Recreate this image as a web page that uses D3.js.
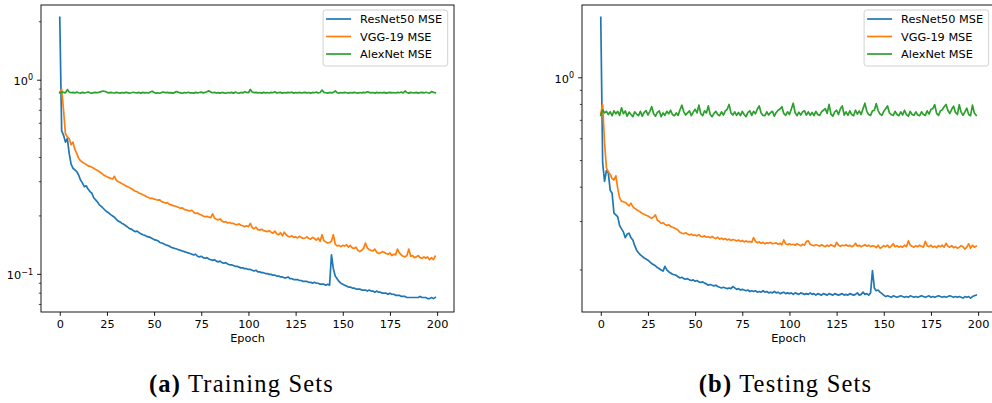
<!DOCTYPE html>
<html>
<head>
<meta charset="utf-8">
<script src="https://cdn.jsdelivr.net/npm/d3@7"></script>
<style>
  html, body { margin: 0; padding: 0; background: #fff; }
  svg { display: block; }
</style>
</head>
<body>
<svg id="fig" width="992" height="403"></svg>
<script>
// ---- data: per-epoch MSE for each network (epochs 0..199) ----
const epochs = d3.range(200);

const trainResNet = [
  2.11, 0.55, 0.52, 0.48, 0.50, 0.42, 0.37, 0.352, 0.345, 0.338,
  0.325, 0.306, 0.296, 0.283, 0.286, 0.275, 0.267, 0.262, 0.248, 0.242,
  0.236, 0.228, 0.224, 0.219, 0.214, 0.210, 0.207, 0.203, 0.200, 0.197,
  0.192, 0.188, 0.186, 0.183, 0.181, 0.178, 0.175, 0.172, 0.171, 0.168,
  0.166, 0.167, 0.164, 0.162, 0.160, 0.159, 0.157, 0.156, 0.155, 0.153,
  0.151, 0.150, 0.149, 0.146, 0.145, 0.144, 0.142, 0.141, 0.140, 0.138,
  0.137, 0.136, 0.135, 0.134, 0.133, 0.132, 0.131, 0.130, 0.129, 0.128,
  0.127, 0.126, 0.127, 0.124, 0.123, 0.124, 0.122, 0.121, 0.122, 0.120,
  0.119, 0.118, 0.119, 0.117, 0.116, 0.117, 0.115, 0.114, 0.115, 0.113,
  0.112, 0.112, 0.111, 0.110, 0.110, 0.109, 0.108, 0.108, 0.107, 0.107,
  0.106, 0.106, 0.105, 0.104, 0.105, 0.103, 0.103, 0.102, 0.102, 0.101,
  0.101, 0.100, 0.100, 0.099, 0.099, 0.098, 0.098, 0.097, 0.097, 0.096,
  0.096, 0.097, 0.095, 0.095, 0.094, 0.094, 0.094, 0.093, 0.093, 0.092,
  0.092, 0.092, 0.091, 0.091, 0.090, 0.091, 0.090, 0.090, 0.089, 0.089,
  0.089, 0.088, 0.089, 0.088, 0.126, 0.107, 0.098, 0.095, 0.092, 0.090,
  0.089, 0.088, 0.087, 0.086, 0.086, 0.085, 0.085, 0.084, 0.084, 0.084,
  0.083, 0.083, 0.083, 0.082, 0.083, 0.082, 0.082, 0.081, 0.082, 0.081,
  0.081, 0.080, 0.080, 0.080, 0.079, 0.080, 0.079, 0.079, 0.078, 0.078,
  0.078, 0.077, 0.077, 0.077, 0.076, 0.076, 0.076, 0.076, 0.076, 0.076,
  0.076, 0.077, 0.076, 0.076, 0.076, 0.075, 0.075, 0.076, 0.075, 0.076
];

const trainVGG = [
  0.87, 0.90, 0.70, 0.53, 0.51, 0.50, 0.465, 0.48, 0.44, 0.42,
  0.396, 0.385, 0.378, 0.373, 0.368, 0.362, 0.360, 0.356, 0.352, 0.347,
  0.343, 0.338, 0.333, 0.326, 0.322, 0.318, 0.315, 0.312, 0.310, 0.320,
  0.305, 0.300, 0.297, 0.293, 0.290, 0.285, 0.283, 0.279, 0.276, 0.272,
  0.268, 0.267, 0.262, 0.260, 0.257, 0.255, 0.251, 0.249, 0.246, 0.247,
  0.244, 0.243, 0.241, 0.242, 0.237, 0.235, 0.233, 0.234, 0.230, 0.228,
  0.226, 0.225, 0.223, 0.221, 0.219, 0.220, 0.216, 0.215, 0.213, 0.212,
  0.214, 0.209, 0.206, 0.207, 0.204, 0.202, 0.200, 0.198, 0.199, 0.197,
  0.196, 0.205, 0.195, 0.192, 0.191, 0.193, 0.188, 0.186, 0.187, 0.184,
  0.185, 0.183, 0.183, 0.181, 0.180, 0.182, 0.179, 0.178, 0.176, 0.178,
  0.176, 0.183, 0.174, 0.172, 0.175, 0.170, 0.169, 0.171, 0.168, 0.167,
  0.166, 0.168, 0.165, 0.163, 0.167, 0.162, 0.160, 0.164, 0.158, 0.165,
  0.160, 0.157, 0.156, 0.158, 0.155, 0.156, 0.154, 0.157, 0.155, 0.153,
  0.154, 0.156, 0.153, 0.152, 0.155, 0.153, 0.150, 0.154, 0.148, 0.160,
  0.149, 0.147, 0.145, 0.146, 0.148, 0.160, 0.143, 0.140, 0.141, 0.139,
  0.141, 0.140, 0.142, 0.138, 0.141, 0.137, 0.136, 0.138, 0.133, 0.131,
  0.133, 0.136, 0.145, 0.137, 0.134, 0.133, 0.132, 0.135, 0.130, 0.128,
  0.129, 0.131, 0.130, 0.128, 0.127, 0.129, 0.125, 0.127, 0.126, 0.135,
  0.129, 0.126, 0.124, 0.123, 0.125, 0.135, 0.124, 0.125, 0.122, 0.123,
  0.125, 0.122, 0.121, 0.123, 0.121, 0.123, 0.119, 0.122, 0.119, 0.124
];

const trainAlexNet = [
  0.86, 0.87, 0.865, 0.86, 0.895, 0.87, 0.862, 0.865, 0.86, 0.868,
  0.862, 0.858, 0.866, 0.86, 0.864, 0.87, 0.861, 0.857, 0.863, 0.866,
  0.862, 0.868, 0.873, 0.88, 0.875, 0.866, 0.86, 0.865, 0.862, 0.859,
  0.866, 0.862, 0.858, 0.864, 0.861, 0.866, 0.863, 0.858, 0.862, 0.867,
  0.862, 0.86, 0.865, 0.858, 0.866, 0.861, 0.864, 0.859, 0.87, 0.878,
  0.864, 0.858, 0.862, 0.857, 0.865, 0.869, 0.862, 0.866, 0.86, 0.863,
  0.858, 0.866, 0.874, 0.865, 0.861, 0.857, 0.864, 0.86, 0.867, 0.861,
  0.862, 0.858, 0.866, 0.86, 0.864, 0.868, 0.861, 0.866, 0.872, 0.882,
  0.868, 0.862, 0.866, 0.859, 0.863, 0.858, 0.865, 0.861, 0.857, 0.864,
  0.86, 0.866, 0.858, 0.868, 0.862, 0.857, 0.865, 0.86, 0.872, 0.866,
  0.862, 0.896, 0.87, 0.863, 0.866, 0.86, 0.864, 0.858, 0.866, 0.861,
  0.864, 0.859, 0.866, 0.862, 0.872, 0.86, 0.863, 0.866, 0.858, 0.864,
  0.86, 0.866, 0.862, 0.868, 0.858, 0.864, 0.861, 0.866, 0.859, 0.863,
  0.866, 0.86, 0.864, 0.858, 0.865, 0.862, 0.868, 0.86, 0.864, 0.89,
  0.866, 0.862, 0.858, 0.865, 0.86, 0.866, 0.88, 0.862, 0.858, 0.864,
  0.861, 0.866, 0.862, 0.858, 0.864, 0.86, 0.866, 0.862, 0.858, 0.864,
  0.86, 0.866, 0.862, 0.872, 0.866, 0.86, 0.864, 0.858, 0.866, 0.861,
  0.864, 0.86, 0.866, 0.858, 0.863, 0.866, 0.86, 0.864, 0.859, 0.866,
  0.862, 0.868, 0.86, 0.88, 0.864, 0.858, 0.866, 0.862, 0.86, 0.866,
  0.858, 0.864, 0.866, 0.86, 0.867, 0.862, 0.858, 0.874, 0.866, 0.862
];

const testResNet = [
  1.66, 0.49, 0.42, 0.46, 0.45, 0.39, 0.38, 0.322, 0.317, 0.312,
  0.290, 0.282, 0.275, 0.262, 0.270, 0.272, 0.262, 0.257, 0.245, 0.236,
  0.231, 0.227, 0.224, 0.221, 0.219, 0.217, 0.214, 0.211, 0.209, 0.207,
  0.204, 0.202, 0.200, 0.198, 0.206, 0.200, 0.197, 0.195, 0.193, 0.192,
  0.191, 0.189, 0.187, 0.188, 0.186, 0.185, 0.186, 0.184, 0.183, 0.184,
  0.182, 0.183, 0.181, 0.180, 0.181, 0.179, 0.178, 0.176, 0.177, 0.176,
  0.175, 0.176, 0.174, 0.173, 0.172, 0.173, 0.172, 0.171, 0.172, 0.171,
  0.174, 0.172, 0.170, 0.171, 0.169, 0.170, 0.169, 0.168, 0.169, 0.167,
  0.168, 0.167, 0.168, 0.166, 0.167, 0.166, 0.168, 0.166, 0.167, 0.165,
  0.166, 0.165, 0.167, 0.165, 0.166, 0.164, 0.165, 0.166, 0.164, 0.165,
  0.164, 0.165, 0.163, 0.165, 0.164, 0.163, 0.165, 0.164, 0.163, 0.164,
  0.163, 0.165, 0.163, 0.164, 0.162, 0.164, 0.163, 0.162, 0.164, 0.163,
  0.162, 0.164, 0.163, 0.162, 0.164, 0.163, 0.162, 0.163, 0.164, 0.162,
  0.163, 0.162, 0.164, 0.163, 0.162, 0.163, 0.165, 0.162, 0.163, 0.166,
  0.163, 0.164, 0.162, 0.165, 0.199, 0.172, 0.168, 0.169, 0.166, 0.164,
  0.162, 0.160, 0.161, 0.160, 0.159, 0.161, 0.160, 0.159, 0.160, 0.161,
  0.160, 0.159, 0.160, 0.159, 0.161, 0.160, 0.159, 0.160, 0.159, 0.160,
  0.161, 0.160, 0.159, 0.160, 0.161, 0.159, 0.160, 0.159, 0.160, 0.161,
  0.160, 0.159, 0.160, 0.159, 0.160, 0.161, 0.160, 0.159, 0.160, 0.159,
  0.160, 0.159, 0.158, 0.160, 0.159, 0.160, 0.158, 0.160, 0.161, 0.162
];

const testVGG = [
  0.74, 0.80, 0.58, 0.47, 0.455, 0.445, 0.43, 0.425, 0.44, 0.395,
  0.365, 0.356, 0.354, 0.352, 0.347, 0.342, 0.350, 0.340, 0.335, 0.331,
  0.328, 0.325, 0.321, 0.319, 0.316, 0.314, 0.311, 0.308, 0.312, 0.317,
  0.303, 0.300, 0.295, 0.297, 0.293, 0.290, 0.292, 0.288, 0.286, 0.284,
  0.282, 0.279, 0.274, 0.272, 0.271, 0.273, 0.270, 0.268, 0.270, 0.267,
  0.268, 0.266, 0.269, 0.265, 0.264, 0.266, 0.263, 0.264, 0.262, 0.265,
  0.262, 0.260, 0.263, 0.259, 0.261, 0.258, 0.260, 0.257, 0.259, 0.256,
  0.258, 0.257, 0.255, 0.257, 0.254, 0.256, 0.253, 0.255, 0.253, 0.254,
  0.252, 0.262, 0.254, 0.251, 0.253, 0.250, 0.252, 0.249, 0.251, 0.250,
  0.252, 0.249, 0.250, 0.251, 0.248, 0.250, 0.247, 0.257, 0.249, 0.247,
  0.249, 0.247, 0.248, 0.246, 0.249, 0.247, 0.245, 0.248, 0.246, 0.254,
  0.255, 0.248, 0.246, 0.245, 0.247, 0.246, 0.244, 0.247, 0.245, 0.243,
  0.246, 0.244, 0.247, 0.245, 0.243, 0.252, 0.246, 0.244, 0.246, 0.245,
  0.247, 0.244, 0.246, 0.243, 0.245, 0.250, 0.244, 0.246, 0.243, 0.245,
  0.247, 0.244, 0.246, 0.243, 0.245, 0.244, 0.241, 0.246, 0.240, 0.242,
  0.245, 0.243, 0.246, 0.241, 0.244, 0.249, 0.243, 0.245, 0.242, 0.244,
  0.242, 0.246, 0.243, 0.255, 0.246, 0.244, 0.242, 0.245, 0.243, 0.246,
  0.244, 0.242, 0.254, 0.245, 0.243, 0.246, 0.242, 0.244, 0.241, 0.245,
  0.243, 0.246, 0.242, 0.250, 0.244, 0.242, 0.245, 0.241, 0.243, 0.240,
  0.242, 0.245, 0.243, 0.238, 0.242, 0.249, 0.240, 0.246, 0.242, 0.244
];

const testAlexNet = [
  0.73, 0.765, 0.745, 0.755, 0.735, 0.752, 0.728, 0.758, 0.74, 0.755,
  0.73, 0.778, 0.74, 0.758, 0.725, 0.75, 0.735, 0.722, 0.752, 0.738,
  0.728, 0.755, 0.725, 0.748, 0.76, 0.732, 0.755, 0.785, 0.74, 0.725,
  0.748, 0.758, 0.722, 0.745, 0.73, 0.755, 0.74, 0.762, 0.735, 0.728,
  0.745, 0.73, 0.765, 0.795, 0.752, 0.732, 0.745, 0.758, 0.728, 0.75,
  0.768, 0.745, 0.795, 0.74, 0.728, 0.758, 0.745, 0.79, 0.735, 0.722,
  0.742, 0.755, 0.735, 0.728, 0.752, 0.732, 0.758, 0.768, 0.80, 0.745,
  0.732, 0.752, 0.73, 0.748, 0.728, 0.755, 0.735, 0.722, 0.748, 0.758,
  0.73, 0.755, 0.74, 0.77, 0.79, 0.745, 0.73, 0.728, 0.752, 0.732,
  0.748, 0.755, 0.725, 0.748, 0.762, 0.77, 0.785, 0.742, 0.73, 0.752,
  0.735, 0.77, 0.808, 0.748, 0.728, 0.75, 0.732, 0.752, 0.758, 0.732,
  0.752, 0.73, 0.748, 0.728, 0.755, 0.735, 0.73, 0.752, 0.762, 0.772,
  0.742, 0.80, 0.738, 0.725, 0.752, 0.762, 0.735, 0.772, 0.79, 0.732,
  0.752, 0.73, 0.758, 0.735, 0.728, 0.762, 0.738, 0.758, 0.735, 0.772,
  0.808, 0.755, 0.735, 0.73, 0.758, 0.762, 0.805, 0.76, 0.738, 0.73,
  0.755, 0.772, 0.79, 0.745, 0.735, 0.73, 0.755, 0.735, 0.728, 0.752,
  0.732, 0.762, 0.735, 0.725, 0.755, 0.735, 0.73, 0.752, 0.732, 0.728,
  0.752, 0.735, 0.73, 0.758, 0.738, 0.768, 0.772, 0.798, 0.742, 0.73,
  0.758, 0.765, 0.785, 0.80, 0.76, 0.742, 0.768, 0.788, 0.748, 0.735,
  0.798, 0.75, 0.73, 0.752, 0.775, 0.735, 0.728, 0.795, 0.745, 0.73
];

const seriesNames = ["ResNet50 MSE", "VGG-19 MSE", "AlexNet MSE"];
const seriesColors = ["#1f77b4", "#ff7f0e", "#2ca02c"];
const xTickValues = [0, 25, 50, 75, 100, 125, 150, 175, 200];
const xLabel = "Epoch";
const captionTags = ["(a)", "(b)"];
const captionTexts = ["Training Sets", "Testing Sets"];

// ---- layout ----
const FONT = "'DejaVu Sans', sans-serif";
const FS = 11.3;
const panels = [
  { left: 41,  right: 454, top: 5, bottom: 312, yDomain: [0.064, 2.44],
    series: [trainResNet, trainVGG, trainAlexNet], captionX: 241.5 },
  { left: 582, right: 995, top: 5, bottom: 312, yDomain: [0.1406, 1.84],
    series: [testResNet, testVGG, testAlexNet], captionX: 785.5 }
];

const svg = d3.select("#fig");

panels.forEach((p, pi) => {
  const x = d3.scaleLinear().domain([-9.95, 208.95]).range([p.left, p.right]);
  const y = d3.scaleLog().domain(p.yDomain).range([p.bottom, p.top]);
  const g = svg.append("g");

  // loss curves
  const line = d3.line().x((d, i) => x(epochs[i])).y(d => y(d));
  p.series.forEach((s, si) => {
    g.append("path")
      .datum(s)
      .attr("d", line)
      .attr("fill", "none")
      .attr("stroke", seriesColors[si])
      .attr("stroke-width", 1.7)
      .attr("stroke-linejoin", "round")
      .attr("stroke-linecap", "square");
  });

  // x axis
  const xAxis = d3.axisBottom(x).tickValues(xTickValues).tickSize(3.9).tickPadding(3.6).tickSizeOuter(0);
  const gx = g.append("g").attr("transform", `translate(0,${p.bottom})`).call(xAxis);
  gx.select(".domain").remove();
  gx.selectAll(".tick line").attr("stroke", "#000").attr("stroke-width", 0.9);
  gx.selectAll(".tick text").attr("font-family", FONT).attr("font-size", FS).attr("fill", "#000");

  // y axis (log): decades labelled, intermediate ticks unlabelled
  const [lo, hi] = p.yDomain;
  const majors = [], minors = [];
  for (let e = Math.floor(Math.log10(lo)); e <= Math.ceil(Math.log10(hi)); e++) {
    for (let m = 1; m <= 9; m++) {
      const v = m * Math.pow(10, e);
      if (v < lo || v > hi) continue;
      (m === 1 ? majors : minors).push({ v, e });
    }
  }
  const gy = g.append("g");
  gy.selectAll("line.minor").data(minors).join("line")
    .attr("x1", p.left).attr("x2", p.left - 2.2)
    .attr("y1", d => y(d.v)).attr("y2", d => y(d.v))
    .attr("stroke", "#000").attr("stroke-width", 0.7);
  gy.selectAll("line.major").data(majors).join("line")
    .attr("x1", p.left).attr("x2", p.left - 3.9)
    .attr("y1", d => y(d.v)).attr("y2", d => y(d.v))
    .attr("stroke", "#000").attr("stroke-width", 0.9);
  const lbl = gy.selectAll("text.major").data(majors).join("text")
    .attr("x", p.left - 8)
    .attr("y", d => y(d.v) + 5)
    .attr("text-anchor", "end")
    .attr("font-family", FONT).attr("font-size", FS).attr("fill", "#000");
  lbl.append("tspan").text("10");
  lbl.append("tspan").attr("dy", -4.8).attr("font-size", 8).text(d => d.e < 0 ? "\u2212" + (-d.e) : String(d.e));

  // frame
  g.append("rect")
    .attr("x", p.left).attr("y", p.top)
    .attr("width", p.right - p.left).attr("height", p.bottom - p.top)
    .attr("fill", "none").attr("stroke", "#000").attr("stroke-width", 0.9);

  // x label
  g.append("text")
    .attr("x", (p.left + p.right) / 2).attr("y", 341.5)
    .attr("text-anchor", "middle")
    .attr("font-family", FONT).attr("font-size", FS).attr("fill", "#000")
    .text(xLabel);

  // legend
  const lw = 124.6, lh = 56;
  const lx = p.right - 6.3 - lw, ly = 10;
  const lg = g.append("g").attr("transform", `translate(${lx},${ly})`);
  lg.append("rect")
    .attr("x", 0).attr("y", 0).attr("width", lw).attr("height", lh)
    .attr("rx", 2.5).attr("ry", 2.5)
    .attr("fill", "#fff").attr("fill-opacity", 0.8)
    .attr("stroke", "#cccccc").attr("stroke-width", 0.9);
  seriesNames.forEach((name, si) => {
    const cy = 9 + si * 17.5;
    lg.append("line")
      .attr("x1", 3).attr("x2", 28).attr("y1", cy).attr("y2", cy)
      .attr("stroke", seriesColors[si]).attr("stroke-width", 1.7);
    lg.append("text")
      .attr("x", 37).attr("y", cy).attr("dy", "0.36em")
      .attr("font-family", FONT).attr("font-size", FS).attr("fill", "#000")
      .text(name);
  });

  // sub-figure caption
  const cap = svg.append("text")
    .attr("x", p.captionX).attr("y", 392)
    .attr("text-anchor", "middle")
    .attr("font-family", "'Liberation Serif', 'DejaVu Serif', serif")
    .attr("font-size", 24.5).attr("letter-spacing", 1.2).attr("fill", "#000");
  cap.append("tspan").attr("font-weight", "bold").text(captionTags[pi]);
  cap.append("tspan").text(" " + captionTexts[pi]);
});
</script>
</body>
</html>
